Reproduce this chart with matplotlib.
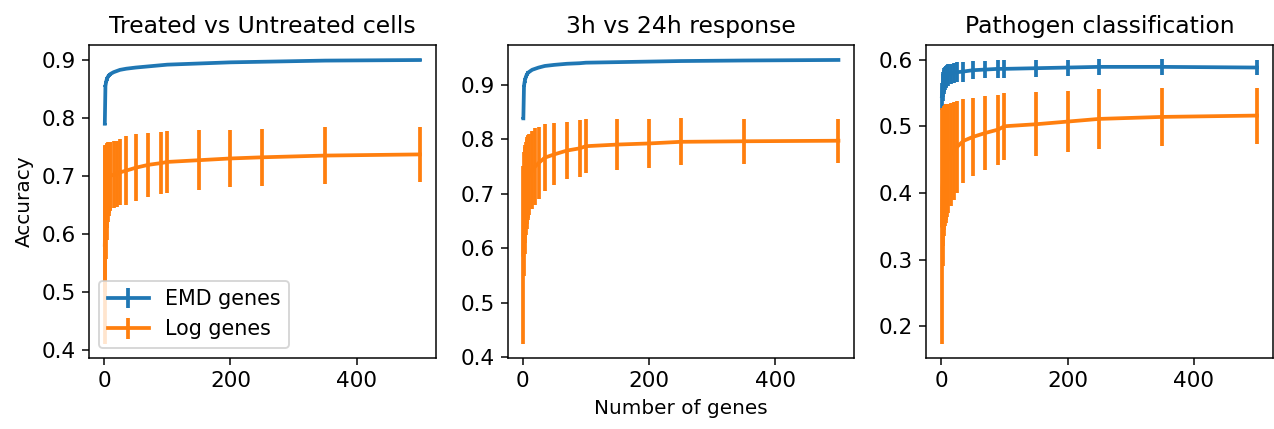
import matplotlib
matplotlib.use('Agg')
import matplotlib.pyplot as plt
from matplotlib.ticker import MultipleLocator

n_genes = [1, 2, 3, 4, 5, 6, 7, 8, 9, 10, 15, 20, 25, 35, 50, 70, 90, 100, 150, 200, 250, 350, 500]
titles = ['Treated vs Untreated cells', '3h vs 24h response', 'Pathogen classification']

# panel 1: treated vs untreated
emd_1 = [0.79, 0.855, 0.862, 0.866, 0.869, 0.871, 0.873, 0.874, 0.875, 0.876, 0.879, 0.881, 0.883, 0.885, 0.887, 0.889, 0.891, 0.892, 0.894, 0.896, 0.897, 0.899, 0.900]
emd_1_err = [0.002] * 23
log_1 = [0.581, 0.627, 0.655, 0.672, 0.683, 0.689, 0.694, 0.697, 0.699, 0.700, 0.702, 0.704, 0.706, 0.709, 0.714, 0.719, 0.722, 0.724, 0.727, 0.730, 0.732, 0.735, 0.737]
log_1_err = [0.171, 0.127, 0.098, 0.083, 0.073, 0.069, 0.064, 0.062, 0.060, 0.059, 0.058, 0.057, 0.057, 0.060, 0.058, 0.055, 0.054, 0.053, 0.052, 0.050, 0.049, 0.049, 0.047]

# panel 2: 3h vs 24h
emd_2 = [0.838, 0.897, 0.905, 0.910, 0.914, 0.917, 0.919, 0.921, 0.922, 0.923, 0.927, 0.929, 0.931, 0.934, 0.936, 0.938, 0.939, 0.940, 0.941, 0.942, 0.943, 0.944, 0.945]
emd_2_err = [0.002] * 23
log_2 = [0.588, 0.663, 0.688, 0.700, 0.710, 0.718, 0.724, 0.728, 0.731, 0.735, 0.743, 0.750, 0.756, 0.766, 0.772, 0.779, 0.783, 0.787, 0.790, 0.792, 0.795, 0.796, 0.797]
log_2_err = [0.163, 0.113, 0.098, 0.090, 0.085, 0.082, 0.079, 0.077, 0.076, 0.075, 0.072, 0.070, 0.066, 0.061, 0.057, 0.053, 0.052, 0.050, 0.047, 0.045, 0.043, 0.041, 0.040]

# panel 3: pathogen classification
emd_3 = [0.545, 0.558, 0.563, 0.567, 0.570, 0.572, 0.574, 0.575, 0.576, 0.577, 0.579, 0.580, 0.581, 0.582, 0.584, 0.585, 0.586, 0.586, 0.587, 0.588, 0.589, 0.589, 0.588]
emd_3_err = [0.02, 0.02, 0.019, 0.018, 0.018, 0.017, 0.017, 0.016, 0.016, 0.016, 0.015, 0.015, 0.015, 0.015, 0.0135, 0.013, 0.013, 0.013, 0.0125, 0.012, 0.012, 0.012, 0.011]
log_3 = [0.351, 0.409, 0.424, 0.432, 0.438, 0.441, 0.444, 0.447, 0.449, 0.452, 0.458, 0.463, 0.469, 0.478, 0.484, 0.490, 0.495, 0.500, 0.503, 0.507, 0.511, 0.514, 0.516]
log_3_err = [0.177, 0.119, 0.104, 0.097, 0.093, 0.091, 0.089, 0.087, 0.085, 0.082, 0.077, 0.073, 0.069, 0.063, 0.059, 0.055, 0.0525, 0.05, 0.048, 0.046, 0.045, 0.044, 0.042]

emd_all = [(emd_1, emd_1_err), (emd_2, emd_2_err), (emd_3, emd_3_err)]
log_all = [(log_1, log_1_err), (log_2, log_2_err), (log_3, log_3_err)]

dpi = 135
fig, axes = plt.subplots(1, 3, figsize=(1274 / dpi, 429 / dpi), dpi=dpi)
plt.subplots_adjust(left=0.0699, right=0.999, top=0.896, bottom=0.1655, wspace=0.2077)

for i, ax in enumerate(axes):
    ax.errorbar(n_genes, emd_all[i][0], yerr=emd_all[i][1], lw=2, label='EMD genes')
    ax.errorbar(n_genes, log_all[i][0], yerr=log_all[i][1], lw=2, label='Log genes')
    ax.set_title(titles[i], fontsize=12.5)
    ax.xaxis.set_major_locator(MultipleLocator(200))
    ax.tick_params(labelsize=11.5)

axes[0].set_ylabel('Accuracy', fontsize=10.7)
axes[1].set_xlabel('Number of genes', fontsize=10.7)
axes[0].legend(loc='lower left', fontsize=11)

plt.savefig('out.png', dpi=dpi)
